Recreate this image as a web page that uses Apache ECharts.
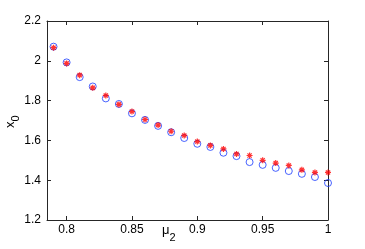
<!DOCTYPE html>
<html><head><meta charset="utf-8">
<script src="https://cdn.jsdelivr.net/npm/echarts@6/dist/echarts.min.js"></script>
<style>html,body{margin:0;padding:0;background:#fff}#c{width:365px;height:249px}</style>
</head><body><div id="c"></div>
<script>
const mu2 = [0.79,0.80,0.81,0.82,0.83,0.84,0.85,0.86,0.87,0.88,0.89,0.90,0.91,0.92,0.93,0.94,0.95,0.96,0.97,0.98,0.99,1.00];
const x0Circle = [2.071,1.992,1.918,1.871,1.811,1.783,1.736,1.703,1.673,1.641,1.612,1.583,1.567,1.538,1.521,1.491,1.477,1.462,1.446,1.432,1.416,1.386];
const x0Star = [2.066,1.987,1.928,1.864,1.826,1.781,1.745,1.705,1.677,1.646,1.625,1.594,1.575,1.557,1.532,1.524,1.500,1.486,1.474,1.452,1.439,1.439];
const xTicks = [0.8,0.85,0.9,0.95,1];
const yTicks = [1.2,1.4,1.6,1.8,2,2.2];

const FONT = 'Liberation Sans, Arial, sans-serif';
const AX = '#262626';
const chart = echarts.init(document.getElementById('c'), null, {renderer:'canvas'});
const axBase = {
  type:'value', scale:true,
  axisLine:{show:true, onZero:false, lineStyle:{color:AX, width:1}},
  splitLine:{show:false}
};
const star = 'path://M5,0 L5,10 M0,5 L10,5 M1.5,1.5 L8.5,8.5 M8.5,1.5 L1.5,8.5';
chart.setOption({
  animation:false,
  grid:{left:47, right:37, top:21, bottom:29},
  xAxis:[
    Object.assign({}, axBase, {position:'bottom', min:0.785, max:1,
      axisTick:{show:true, inside:true, length:4, lineStyle:{color:AX}, customValues:xTicks},
      axisLabel:{show:true, margin:4, color:'#000', fontFamily:FONT, fontSize:12, customValues:xTicks,
        formatter:v=>String(+v.toFixed(2))}}),
    Object.assign({}, axBase, {position:'top', min:0.785, max:1,
      axisTick:{show:true, inside:true, length:4, lineStyle:{color:AX}, customValues:xTicks},
      axisLabel:{show:false}})
  ],
  yAxis:[
    Object.assign({}, axBase, {position:'left', min:1.2, max:2.2, interval:0.2,
      axisTick:{show:true, inside:true, length:4, lineStyle:{color:AX}, customValues:yTicks},
      axisLabel:{show:true, margin:6, color:'#000', fontFamily:FONT, fontSize:12, customValues:yTicks,
        formatter:v=>String(+v.toFixed(1))}}),
    Object.assign({}, axBase, {position:'right', min:1.2, max:2.2, interval:0.2,
      axisTick:{show:true, inside:true, length:4, lineStyle:{color:AX}, customValues:yTicks},
      axisLabel:{show:false}})
  ],
  graphic:[
    {type:'text', left:162, top:224, style:{text:'{a|μ}{b|2}', fill:'#000',
      rich:{a:{fontFamily:FONT, fontSize:13, verticalAlign:'top'}, b:{fontFamily:FONT, fontSize:11, verticalAlign:'bottom', padding:[8,0,0,0]}}}},
    {type:'text', x:4, y:128, rotation:Math.PI/2, style:{text:'{a|x}{b|0}', fill:'#000',
      rich:{a:{fontFamily:FONT, fontSize:13, verticalAlign:'top'}, b:{fontFamily:FONT, fontSize:11, verticalAlign:'bottom', padding:[6,0,0,0]}}}}
  ],
  series:[
    {type:'scatter', xAxisIndex:0, yAxisIndex:0, data:mu2.map((m,i)=>[m,x0Circle[i]]),
      symbol:'circle', symbolSize:7, itemStyle:{color:'transparent', borderColor:'#1a3cff', borderWidth:1}},
    {type:'scatter', xAxisIndex:0, yAxisIndex:0, data:mu2.map((m,i)=>[m,x0Star[i]]),
      symbol:star, symbolSize:6, itemStyle:{color:'transparent', borderColor:'#ff0000', borderWidth:1.2}}
  ]
});
</script></body></html>
